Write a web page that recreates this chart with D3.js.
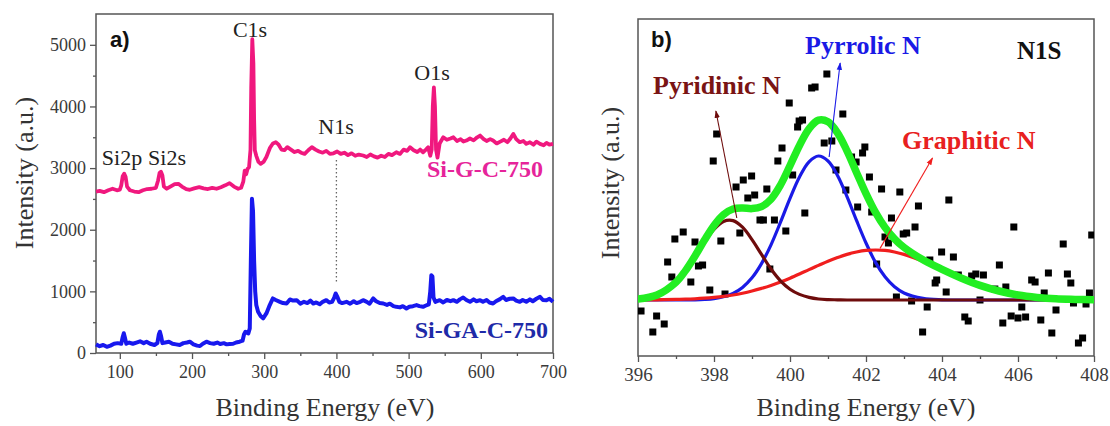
<!DOCTYPE html>
<html>
<head>
<meta charset="utf-8">
<script src="https://cdn.jsdelivr.net/npm/d3@7"></script>
<style>
  html, body { margin: 0; padding: 0; background: #fff; }
  svg { display: block; font-family: "Liberation Serif", "Times New Roman", serif; }
</style>
</head>
<body>
<svg id="chart" width="1110" height="426"></svg>
<script>
// ─── Data: a) survey spectra [binding energy eV, counts] ─────────

const surveySiGC = [[67,2620],[72,2630],[78,2610],[84,2640],[90,2665],[96,2640],[100,2650],[102,2720],[104,2870],[106,2910],[108,2860],[110,2700],[114,2640],[120,2620],[126,2610],[132,2640],[138,2660],[144,2665],[150,2680],[153,2800],[155,2920],[157,2940],[159,2880],[161,2700],[165,2665],[170,2700],[176,2740],[181,2745],[186,2700],[192,2660],[197,2648],[203,2670],[210,2690],[216,2670],[222,2660],[228,2680],[234,2665],[240,2690],[246,2720],[252,2756],[258,2700],[264,2665],[268,2680],[271,2780],[273,2960],[275,2900],[277,2990],[279,3015],[281,3300],[282,4300],[283.5,5090],[285,4700],[286,3800],[287,3290],[289,3200],[292,3100],[295,3070],[299,3100],[303,3180],[308,3330],[312,3400],[316,3420],[320,3380],[324,3300],[328,3290],[332,3340],[337,3300],[342,3260],[347,3280],[351,3250],[356,3230],[361,3290],[366,3340],[371,3300],[376,3270],[381,3250],[386,3280],[391,3230],[396,3240],[401,3270],[406,3230],[411,3250],[416,3210],[421,3240],[426,3200],[431,3220],[437,3204],[442,3180],[447,3220],[452,3190],[457,3170],[462,3200],[467,3180],[472,3230],[477,3210],[483,3257],[488,3230],[493,3300],[498,3280],[502,3338],[507,3290],[512,3260],[516,3300],[520,3257],[524,3300],[527,3338],[530,3200],[532,3300],[533.5,4000],[535,4310],[536.5,4000],[538,3300],[540,3170],[543,3400],[548,3500],[553,3460],[558,3480],[562,3500],[567,3440],[572,3470],[576,3430],[580,3447],[585,3480],[590,3450],[595,3500],[599,3528],[604,3470],[608,3440],[613,3470],[617,3447],[622,3400],[627,3430],[632,3460],[637,3420],[641,3480],[645,3555],[649,3470],[654,3420],[659,3440],[663,3393],[668,3420],[673,3380],[677,3430],[682,3393],[687,3370],[691,3410],[695,3380],[700,3393]];

const surveySiGAC = [[67,140],[72,110],[77,130],[82,100],[87,120],[92,150],[97,160],[102,150],[104,260],[105.5,320],[107,250],[109,150],[113,170],[118,150],[123,170],[128,190],[133,160],[137,183],[142,150],[148,130],[152,160],[154,300],[155.5,345],[157,280],[159,160],[163,170],[168,183],[173,150],[178,140],[183,129],[188,160],[193,170],[197,183],[202,140],[207,120],[211,113],[215,150],[220,183],[225,160],[230,150],[235,170],[239,146],[244,160],[248,140],[252,146],[257,150],[261,170],[266,183],[270,200],[272,300],[274,345],[276,330],[278,319],[280,400],[281.5,1500],[283,2503],[284.5,2300],[286,1500],[287.5,1000],[289,780],[291.5,668],[295,600],[298.5,561],[303,642],[307,760],[312,885],[316,860],[321.7,830],[326,810],[331,803],[335.6,868],[340,850],[345,857],[350,800],[355,830],[360,810],[364,850],[368,803],[372,820],[377,790],[381,830],[386,857],[390,820],[394,830],[397,900],[399,966],[401,920],[404,830],[408,810],[414,830],[419,800],[424,840],[428,810],[433,830],[437,857],[442,830],[446,800],[451,885],[455,840],[460,810],[465,803],[470,780],[474,800],[479,760],[483,749],[488,740],[492,760],[497,722],[501,750],[506,760],[511,777],[515,760],[520,749],[524,770],[528,790],[530,1000],[531.5,1262],[533,1240],[534.5,900],[537,830],[543,857],[548,820],[553,860],[558,840],[562,857],[567,830],[571,870],[575.6,900],[580,860],[585,830],[590,870],[594,840],[599,857],[603,830],[608,860],[612,820],[617,803],[621,840],[626,870],[631,911],[635,860],[640,880],[645,885],[649,850],[654,830],[658,860],[663,830],[668,870],[672,840],[677,880],[682,911],[686,860],[691,857],[695,880],[700,830]];

const surveyXTicks = [100, 200, 300, 400, 500, 600, 700];
const surveyXMinor = [150, 250, 350, 450, 550, 650];
const surveyYTicks = [0, 1000, 2000, 3000, 4000, 5000];
const surveyYMinor = [500, 1500, 2500, 3500, 4500];

// ─── Data: b) N1s high-resolution fit ────────────────────────────

const n1sEnergy = [396,396.5,397,397.25,397.5,397.75,398,398.25,398.5,398.75,399,399.25,399.5,399.75,400,400.25,400.5,400.75,401,401.25,401.5,401.75,402,402.25,402.5,402.75,403,403.5,404,404.5,405,405.5,406,406.5,407,407.5,408];
const n1sPyridinic = [1004,1024,1087,1142,1212,1288,1353,1393,1397,1364,1302,1228,1155,1096,1054,1028,1013,1005,1002,1001,1000,1000,1000,1000,1000,1000,1000,1000,1000,1000,1000,1000,1000,1000,1000,1000,1000];
const n1sPyrrolic = [1000,1000,1000,1000,1001,1003,1007,1016,1033,1063,1111,1182,1276,1389,1508,1615,1691,1720,1695,1623,1517,1398,1285,1188,1116,1066,1035,1008,1001,1000,1000,1000,1000,1000,1000,1000,1000];
const n1sGraphitic = [1000,1001,1003,1004,1006,1009,1013,1018,1025,1034,1045,1058,1073,1090,1109,1130,1152,1173,1194,1212,1228,1240,1248,1250,1248,1240,1228,1194,1152,1109,1073,1045,1025,1013,1006,1003,1001];
const n1sEnvelope = [1005,1025,1089,1147,1220,1300,1373,1427,1455,1460,1457,1467,1504,1575,1672,1773,1856,1899,1891,1836,1746,1638,1532,1438,1363,1306,1263,1201,1153,1110,1073,1045,1025,1013,1006,1003,1001];

const n1sMeasured = [[396.08,945],[396.39,840],[396.49,920],[396.69,880],[396.78,1190],[396.89,1115],[396.97,1305],[397.19,1340],[397.39,1090],[397.5,1290],[397.59,1170],[397.7,1175],[397.89,1050],[397.98,1695],[398.07,1830],[398.18,1295],[398.29,1030],[398.58,1565],[398.68,1335],[398.77,1600],[398.89,1510],[398.99,1620],[399.07,1525],[399.21,1400],[399.3,1400],[399.39,1555],[399.47,1155],[399.59,1400],[399.68,1695],[399.79,1760],[399.89,1345],[399.98,1985],[400.07,1625],[400.2,1865],[400.24,1895],[400.33,1900],[400.39,1435],[400.57,2060],[400.66,2065],[400.97,2130],[400.9,1785],[401.1,1795],[401.21,1650],[401.39,1930],[401.47,1550],[401.62,1715],[401.74,1690],[401.78,1465],[401.91,1735],[401.97,1765],[402.09,1615],[402.15,1440],[402.28,1180],[402.41,1555],[402.5,1315],[402.59,1285],[402.67,1410],[402.8,1015],[402.89,1540],[402.98,1330],[403.07,1335],[403.2,995],[403.29,1365],[403.38,1470],[403.49,840],[403.61,965],[403.68,1200],[403.82,1085],[403.86,1100],[403.99,1240],[404.11,1040],[404.18,1500],[404.3,1215],[404.43,1125],[404.6,915],[404.69,895],[404.78,1120],[404.89,1130],[405,1000],[405.09,1125],[405.39,1055],[405.51,1175],[405.6,885],[405.68,1065],[405.82,920],[405.89,1365],[406,910],[406.1,965],[406.2,915],[406.36,1100],[406.45,1090],[406.6,900],[406.69,1035],[406.8,1135],[406.89,835],[407,950],[407.19,1280],[407.3,1130],[407.39,1085],[407.46,985],[407.59,785],[407.7,810],[407.79,980],[407.88,1035],[407.94,1325]];

const n1sXTicks = [396, 398, 400, 402, 404, 406, 408];
const n1sXMinor = [397, 399, 401, 403, 405, 407];

(function () {
  'use strict';

  const svg = d3.select('#chart');
  const AXIS = '#555';
  const TEXT = '#3a3a3a';
  const SERIF = '"Liberation Serif", "Times New Roman", serif';

  // ─── Helpers ──────────────────────────────────────

  function frame(x0, y0, x1, y1) {
    svg.append('rect')
      .attr('x', x0).attr('y', y0)
      .attr('width', x1 - x0).attr('height', y1 - y0)
      .attr('fill', 'none')
      .attr('stroke', AXIS)
      .attr('stroke-width', 1.5);
  }

  function styleAxis(g, fontSize) {
    g.select('.domain').remove();
    g.selectAll('.tick line').attr('stroke', AXIS).attr('stroke-width', 1.3);
    g.selectAll('.tick text')
      .attr('fill', TEXT)
      .style('font-family', SERIF)
      .style('font-size', fontSize + 'px');
  }

  function label(text, x, y, opts) {
    opts = opts || {};
    const el = svg.append('text')
      .attr('x', x).attr('y', y)
      .attr('text-anchor', opts.anchor || 'middle')
      .attr('fill', opts.color || '#222')
      .style('font-family', opts.sans ? '"Liberation Sans", Arial, sans-serif' : SERIF)
      .style('font-size', (opts.size || 22) + 'px')
      .text(text);
    if (opts.bold) el.style('font-weight', 'bold');
    if (opts.rotate) el.attr('transform', `rotate(-90, ${x}, ${y})`);
    return el;
  }

  function arrowMarker(id, color) {
    svg.select('defs').append('marker')
      .attr('id', id)
      .attr('viewBox', '0 0 10 10')
      .attr('refX', 9).attr('refY', 5)
      .attr('markerWidth', 7).attr('markerHeight', 7)
      .attr('orient', 'auto')
      .append('path')
      .attr('d', 'M0,1.5 L10,5 L0,8.5 Z')
      .attr('fill', color);
  }

  svg.append('defs');

  // ─── Panel a) survey ──────────────────────────────

  const xA = d3.scaleLinear().domain([67, 700]).range([96, 553]);
  const yA = d3.scaleLinear().domain([0, 5500]).range([353, 14]);

  const gxA = svg.append('g').attr('transform', 'translate(0,353)')
    .call(d3.axisBottom(xA).tickValues(surveyXTicks).tickSize(6).tickPadding(6)
      .tickFormat(d3.format('d')));
  styleAxis(gxA, 18);
  svg.append('g').attr('transform', 'translate(0,353)')
    .call(d3.axisBottom(xA).tickValues(surveyXMinor).tickSize(3).tickFormat(''))
    .call(g => styleAxis(g, 1));

  const gyA = svg.append('g').attr('transform', 'translate(96,0)')
    .call(d3.axisLeft(yA).tickValues(surveyYTicks).tickSize(6).tickPadding(4)
      .tickFormat(d3.format('d')));
  styleAxis(gyA, 18);
  svg.append('g').attr('transform', 'translate(96,0)')
    .call(d3.axisLeft(yA).tickValues(surveyYMinor).tickSize(3).tickFormat(''))
    .call(g => styleAxis(g, 1));

  frame(96, 14, 553, 353);

  // N1s guide line
  svg.append('line')
    .attr('x1', xA(400)).attr('x2', xA(400))
    .attr('y1', yA(3130)).attr('y2', yA(1130))
    .attr('stroke', '#666')
    .attr('stroke-width', 1.3)
    .attr('stroke-dasharray', '1.5,2.5');

  const lineA = d3.line().x(d => xA(d[0])).y(d => yA(d[1]));

  svg.append('path').datum(surveySiGAC)
    .attr('d', lineA)
    .attr('fill', 'none')
    .attr('stroke', '#1818ee')
    .attr('stroke-width', 4)
    .attr('stroke-linejoin', 'round');

  svg.append('path').datum(surveySiGC)
    .attr('d', lineA)
    .attr('fill', 'none')
    .attr('stroke', '#f0187e')
    .attr('stroke-width', 3.8)
    .attr('stroke-linejoin', 'round');

  label('a)', 110, 47, { size: 22, bold: true, sans: true, anchor: 'start', color: '#111' });
  label('C1s', 250, 37, { size: 22 });
  label('Si2p', 122, 165, { size: 22 });
  label('Si2s', 167, 165, { size: 22 });
  label('N1s', 336, 134, { size: 22 });
  label('O1s', 432, 80, { size: 22 });
  label('Si-G-C-750', 543, 177, { size: 24, bold: true, anchor: 'end', color: '#e6249a' });
  label('Si-GA-C-750', 548, 338, { size: 24, bold: true, anchor: 'end', color: '#1e2aa8' });

  label('Intensity (a.u.)', 33, 173, { size: 26, rotate: true, color: '#333' });
  label('Binding Energy (eV)', 325, 416, { size: 26, color: '#333' });

  // ─── Panel b) N1s ─────────────────────────────────

  const xB = d3.scaleLinear().domain([396, 408]).range([638, 1094]);
  const yB = d3.scaleLinear().domain([720, 2405]).range([356, 19]);

  const gxB = svg.append('g').attr('transform', 'translate(0,356)')
    .call(d3.axisBottom(xB).tickValues(n1sXTicks).tickSize(6).tickPadding(6));
  styleAxis(gxB, 19);
  svg.append('g').attr('transform', 'translate(0,356)')
    .call(d3.axisBottom(xB).tickValues(n1sXMinor).tickSize(3).tickFormat(''))
    .call(g => styleAxis(g, 1));

  frame(638, 19, 1094, 356);

  const clip = svg.select('defs').append('clipPath').attr('id', 'clip-b');
  clip.append('rect').attr('x', 638).attr('y', 19).attr('width', 456).attr('height', 337);

  const plotB = svg.append('g').attr('clip-path', 'url(#clip-b)');

  // measured points
  plotB.selectAll('rect.pt')
    .data(n1sMeasured)
    .enter().append('rect')
    .attr('class', 'pt')
    .attr('x', d => xB(d[0]) - 3.5)
    .attr('y', d => yB(d[1]) - 3.5)
    .attr('width', 7).attr('height', 7)
    .attr('fill', '#000');

  const lineB = d3.line()
    .x((d, i) => xB(n1sEnergy[i]))
    .y(d => yB(d))
    .curve(d3.curveCatmullRom.alpha(0.5));

  const comps = [
    { values: n1sPyrrolic, color: '#1a1ae6', width: 3.2 },
    { values: n1sGraphitic, color: '#f01e1e', width: 3.2 },
    { values: n1sPyridinic, color: '#6e0c0c', width: 3.2 },
    { values: n1sEnvelope, color: '#22ee22', width: 7.5 }
  ];

  comps.forEach(function (c) {
    plotB.append('path').datum(c.values)
      .attr('d', lineB)
      .attr('fill', 'none')
      .attr('stroke', c.color)
      .attr('stroke-width', c.width)
      .attr('stroke-linecap', 'round');
  });

  // annotation arrows
  arrowMarker('arr-maroon', '#6e0c0c');
  arrowMarker('arr-blue', '#1a1ae6');
  arrowMarker('arr-red', '#f01e1e');

  const arrows = [
    { from: [398.6, 1410], to: [398.05, 1945], color: '#6e0c0c', id: 'arr-maroon' },
    { from: [401.03, 1715], to: [401.32, 2185], color: '#1a1ae6', id: 'arr-blue' },
    { from: [402.37, 1258], to: [403.75, 1710], color: '#f01e1e', id: 'arr-red' }
  ];
  arrows.forEach(function (a) {
    svg.append('line')
      .attr('x1', xB(a.from[0])).attr('y1', yB(a.from[1]))
      .attr('x2', xB(a.to[0])).attr('y2', yB(a.to[1]))
      .attr('stroke', a.color)
      .attr('stroke-width', 1.1)
      .attr('marker-end', `url(#${a.id})`);
  });

  label('b)', 651, 47, { size: 22, bold: true, sans: true, anchor: 'start', color: '#111' });
  label('Pyrrolic N', 805, 54, { size: 26, bold: true, anchor: 'start', color: '#1a1ae6' });
  label('N1S', 1017, 59, { size: 25, bold: true, anchor: 'start', color: '#111' });
  label('Pyridinic N', 653, 94, { size: 26, bold: true, anchor: 'start', color: '#7a1414' });
  label('Graphitic N', 902, 149, { size: 26, bold: true, anchor: 'start', color: '#e82020' });

  label('Intensity (a.u.)', 619, 183, { size: 26, rotate: true, color: '#333' });
  label('Binding Energy (eV)', 866, 416, { size: 26, color: '#333' });
})();
</script>
</body>
</html>
